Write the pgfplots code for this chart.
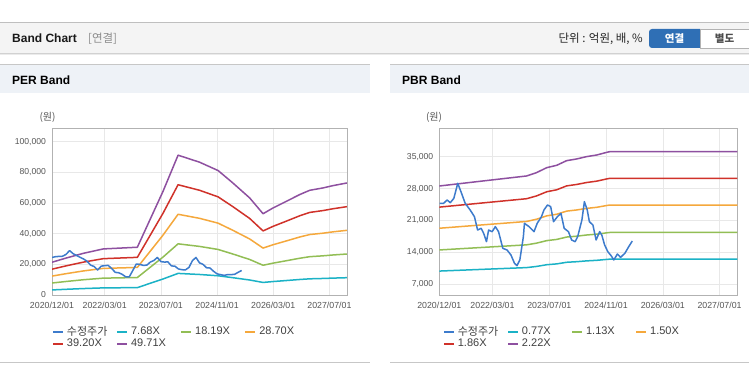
\documentclass[border=0pt]{standalone}
\usepackage{fontspec}
\setmainfont{Liberation Sans}
\newfontfamily\kr{Noto Sans CJK KR}
\usepackage{pgfplots}
\pgfplotsset{compat=1.18}
\definecolor{cPrice}{RGB}{61,123,204}
\definecolor{cCyan}{RGB}{27,178,198}
\definecolor{cGreen}{RGB}{146,190,85}
\definecolor{cOrange}{RGB}{245,168,60}
\definecolor{cRed}{RGB}{208,50,42}
\definecolor{cPurple}{RGB}{142,80,160}
\definecolor{gridc}{RGB}{232,232,232}
\definecolor{axisc}{RGB}{178,178,178}
\definecolor{tickc}{RGB}{85,85,85}
\definecolor{barbg}{RGB}{244,244,244}
\definecolor{hdrbg}{RGB}{238,242,247}
\definecolor{btnblue}{RGB}{47,111,181}
\pgfplotsset{
 bandaxis/.style={
  scale only axis, height=167pt,
  xmin=0, xmax=84,
  xtick={0,15,31,47,63,79},
  xticklabels={2020/12/01,2022/03/01,2023/07/01,2024/11/01,2026/03/01,2027/07/01},
  grid=major, major grid style={draw=gridc, line width=0.6pt},
  major tick length=0pt,
  axis line style={draw=axisc, line width=0.8pt},
  tick label style={font=\fontsize{8.6}{10}\selectfont, text=tickc},
  xticklabel style={font=\fontsize{8.8}{10}\selectfont, yshift=-3.5pt},
  scaled y ticks=false,
  yticklabel style={xshift=-2.5pt, /pgf/number format/fixed, /pgf/number format/precision=0, /pgf/number format/1000 sep={,}, /pgf/number format/assume math mode=true},
  every axis plot/.append style={line width=1.5pt, line join=round, mark=none},
  legend image code/.code={\draw[##1, line width=2pt] (0pt,0pt) -- (10pt,0pt);},
  legend style={draw=none, fill=none, anchor=north west, legend columns=4,
    font=\fontsize{11}{12.5}\selectfont, text=black!75, inner sep=0pt, row sep=0.5pt,
    /tikz/every odd column/.append style={column sep=2pt},
    nodes={inner sep=0.8pt}},
 }
}
\begin{document}
\begin{tikzpicture}
\useasboundingbox (0,0) rectangle (749pt,364pt);
\fill[white] (0,0) rectangle (749pt,364pt);
% top bar
\fill[barbg] (0,311pt) rectangle (749pt,342pt);
\draw[black!25, line width=0.8pt] (0,342pt) -- (749pt,342pt);
\draw[black!18, line width=0.8pt] (0,311pt) -- (749pt,311pt);
\draw[black!8, line width=1.2pt] (0,309.8pt) -- (749pt,309.8pt);
\node[anchor=west, inner sep=0pt, font=\bfseries\fontsize{12}{14}\selectfont, text=black!90] at (12pt,325.5pt) {Band Chart};
\node[anchor=west, inner sep=0pt, font=\kr\fontsize{11.5}{13}\selectfont, text=black!45] at (88pt,325.5pt) {[연결]};
\node[anchor=east, inner sep=0pt, font=\kr\fontsize{11.5}{13}\selectfont, text=black!85] at (643pt,325.5pt) {단위 : 억원,~배,~\%};
\fill[btnblue, rounded corners=3pt] (649pt,316pt) rectangle (703pt,335pt);
\fill[btnblue] (697pt,316pt) rectangle (700pt,335pt);
\fill[white] (700pt,316pt) rectangle (749pt,335pt);
\draw[black!30, line width=0.6pt] (700pt,316pt) rectangle (749.5pt,335pt);
\node[font=\kr\bfseries\fontsize{10.5}{12}\selectfont, text=white, inner sep=0pt] at (674.5pt,325.5pt) {연결};
\node[font=\kr\bfseries\fontsize{10.5}{12}\selectfont, text=black!70, inner sep=0pt] at (724.5pt,325.5pt) {별도};
% panel headers
\fill[hdrbg] (0,271pt) rectangle (370pt,300pt);
\fill[hdrbg] (390pt,271pt) rectangle (749pt,300pt);
\draw[black!22, line width=0.8pt] (0,300pt) -- (370pt,300pt);
\draw[black!22, line width=0.8pt] (390pt,300pt) -- (749pt,300pt);
\node[anchor=west, inner sep=0pt, font=\bfseries\fontsize{12}{14}\selectfont] at (12pt,283.5pt) {PER Band};
\node[anchor=west, inner sep=0pt, font=\bfseries\fontsize{12}{14}\selectfont] at (402pt,283.5pt) {PBR Band};
\draw[black!22, line width=0.8pt] (0,2pt) -- (370pt,2pt);
\draw[black!22, line width=0.8pt] (390pt,2pt) -- (749pt,2pt);
\node[font=\kr\fontsize{10}{12}\selectfont, text=tickc, inner sep=0pt] at (47.5pt,246.7pt) {(원)};
\node[font=\kr\fontsize{10}{12}\selectfont, text=tickc, inner sep=0pt] at (434pt,246.7pt) {(원)};

% PER axis
\begin{axis}[bandaxis, at={(52pt,69pt)}, anchor=south west, width=295pt,
  ymin=0, ymax=109000, ytick={0,20000,40000,60000,80000,100000},
  legend style={at={(0.0,-0.182)}}]
\addlegendimage{cPrice, line width=1.5pt}
\addlegendentry{\makebox[48.5pt][l]{\kr 수정주가}}
\addplot[cCyan] coordinates {(0,3302)(4,3725)(9,4209)(14.6,4646)(19,4723)(24.3,4815)(31.6,10445)(35.9,14100)(38.2,13832)(42,13394)(47.3,12549)(51.5,11297)(56.3,9784)(60.1,8195)(62.9,8771)(66.7,9439)(70.5,10122)(73.4,10560)(77.2,10798)(80,11028)(84,11297)};
\addlegendentry{\makebox[48.5pt][l]{7.68X}}
\addplot[cGreen] coordinates {(0,7822)(4,8822)(9,9968)(14.6,11005)(19,11187)(24.3,11405)(31.6,24738)(35.9,33397)(38.2,32760)(42,31723)(47.3,29722)(51.5,26757)(56.3,23174)(60.1,19409)(62.9,20773)(66.7,22355)(70.5,23974)(73.4,25011)(77.2,25575)(80,26121)(84,26757)};
\addlegendentry{\makebox[48.5pt][l]{18.19X}}
\addplot[cOrange] coordinates {(0,12341)(4,13920)(9,15728)(14.6,17364)(19,17651)(24.3,17995)(31.6,39032)(35.9,52693)(38.2,51689)(42,50053)(47.3,46896)(51.5,42218)(56.3,36564)(60.1,30623)(62.9,32775)(66.7,35272)(70.5,37827)(73.4,39463)(77.2,40352)(80,41213)(84,42218)};
\addlegendentry{\makebox[48.5pt][l]{28.70X}}
\addplot[cRed] coordinates {(0,16856)(4,19012)(9,21482)(14.6,23716)(19,24108)(24.3,24578)(31.6,53312)(35.9,71971)(38.2,70599)(42,68365)(47.3,64053)(51.5,57663)(56.3,49941)(60.1,41826)(62.9,44766)(66.7,48177)(70.5,51666)(73.4,53900)(77.2,55115)(80,56291)(84,57663)};
\addlegendentry{\makebox[48.5pt][l]{39.20X}}
\addplot[cPurple] coordinates {(0,21375)(4,24109)(9,27241)(14.6,30075)(19,30572)(24.3,31168)(31.6,67606)(35.9,91268)(38.2,89528)(42,86694)(47.3,81226)(51.5,73123)(56.3,63331)(60.1,53041)(62.9,56769)(66.7,61094)(70.5,65518)(73.4,68351)(77.2,69892)(80,71384)(84,73123)};
\addlegendentry{\makebox[48.5pt][l]{49.71X}}
\addplot[cPrice, forget plot] coordinates {(0,24500)(1,25000)(2,25200)(3,25300)(4,26500)(5,29000)(6,27000)(7,25800)(8,24600)(9,23500)(10,22000)(11,19500)(12,18600)(13,16300)(14,18800)(15,19200)(16,19300)(17,17300)(18,14800)(19,14500)(20,13500)(21,11800)(22,11800)(23,16000)(24,20200)(25,20000)(26,19300)(27,19500)(28,21500)(29,22500)(30,24500)(31,21800)(32,21500)(33,21600)(34,19000)(35,18800)(36,17000)(37,16500)(38,16400)(39,18000)(40,22500)(41,24500)(42,21000)(43,20000)(44,17800)(45,17600)(46,15500)(47,13800)(48,13300)(49,12800)(50,13300)(51,13300)(52,13500)(53,14800)(54,16000)};
\end{axis}

% PBR axis
\begin{axis}[bandaxis, at={(439.3pt,69pt)}, anchor=south west, width=298pt,
  ymin=4660, ymax=41280, ytick={7000,14000,21000,28000,35000},
  legend style={at={(0.012,-0.182)}}]
\addlegendimage{cPrice, line width=1.5pt}
\addlegendentry{\makebox[48.5pt][l]{\kr 수정주가}}
\addplot[cCyan] coordinates {(0,9906)(12,10280)(24.6,10669)(27.4,10922)(30.3,11302)(33.1,11481)(35.9,11835)(38.7,11962)(41.5,12139)(44.4,12266)(47.2,12466)(48.1,12520)(84,12520)};
\addlegendentry{\makebox[48.5pt][l]{0.77X}}
\addplot[cGreen] coordinates {(0,14537)(12,15086)(24.6,15657)(27.4,16029)(30.3,16586)(33.1,16848)(35.9,17368)(38.7,17555)(41.5,17814)(44.4,18001)(47.2,18295)(48.1,18374)(84,18374)};
\addlegendentry{\makebox[48.5pt][l]{1.13X}}
\addplot[cOrange] coordinates {(0,19298)(12,20025)(24.6,20784)(27.4,21278)(30.3,22017)(33.1,22365)(35.9,23055)(38.7,23303)(41.5,23648)(44.4,23895)(47.2,24285)(48.1,24390)(84,24390)};
\addlegendentry{\makebox[48.5pt][l]{1.50X}}
\addplot[cRed] coordinates {(0,23929)(12,24831)(24.6,25772)(27.4,26384)(30.3,27301)(33.1,27733)(35.9,28588)(38.7,28895)(41.5,29323)(44.4,29630)(47.2,30113)(48.1,30244)(84,30244)};
\addlegendentry{\makebox[48.5pt][l]{1.86X}}
\addplot[cPurple] coordinates {(0,28560)(12,29637)(24.6,30760)(27.4,31491)(30.3,32585)(33.1,33100)(35.9,34121)(38.7,34488)(41.5,34998)(44.4,35365)(47.2,35942)(48.1,36097)(84,36097)};
\addlegendentry{\makebox[48.5pt][l]{2.22X}}
\addplot[cPrice, forget plot] coordinates {(0.1,24760)(1.2,24760)(2.2,25490)(3.1,24900)(4.1,25860)(5.2,29150)(6.1,27320)(7.3,24760)(8.7,23300)(9.9,21840)(10.8,18900)(11.8,19280)(12.5,18180)(13.3,16360)(13.9,18900)(14.9,18550)(15.8,19650)(16.7,18550)(17.9,14900)(19.1,14530)(20.2,13430)(21.2,11600)(21.9,11100)(22.7,12340)(23.7,17450)(24,20380)(25.3,19650)(26.7,18550)(27.6,20380)(28.8,21840)(29.5,23300)(30.5,24400)(31.4,24030)(32.2,20740)(33.3,21840)(34.3,22570)(35.2,19280)(36.4,18550)(37.3,16720)(38.3,16360)(39,17450)(40.2,21110)(40.9,25130)(41.7,23300)(42.3,20740)(43.3,20010)(44.2,16720)(45.2,18550)(45.8,17820)(46.6,15630)(47.5,14160)(48.5,13210)(49.2,12340)(50.2,13650)(51.1,12920)(52.3,13800)(53.4,15260)(54.4,16500)};
\end{axis}
\end{tikzpicture}
\end{document}
